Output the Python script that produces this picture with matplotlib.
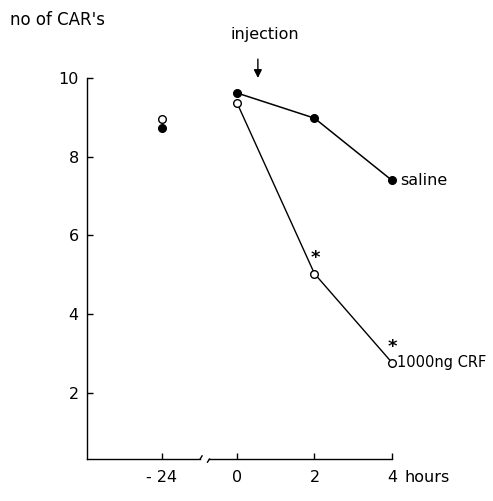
import numpy as np
from matplotlib import pyplot as plt

plt.rcParams['font.family'] = ['DejaVu Sans']

# hours after injection (the -24 h baseline sits left of the axis break)
baseline_hour = -24
hours = [0, 2, 4]

saline_baseline = 8.72
saline = [9.62, 8.98, 7.40]
crf_baseline = 8.95
crf = [9.37, 5.03, 2.77]

x_ticks = [-24, 0, 2, 4]
x_tick_labels = ['- 24', '0', '2', '4']
y_ticks = [2, 4, 6, 8, 10]

# where -24 h is drawn on the compressed axis
BASE_POS = -1.94


def xpos(h):
    h = np.atleast_1d(h).astype(float)
    return np.where(h < -1, BASE_POS, h)


fig = plt.figure(figsize=(4.93, 5.01), dpi=100)
ax = fig.add_axes([0.1765, 0.0838, 0.795 - 0.1765, 0.8443 - 0.0838])
ax.set_xlim(-3.87, 4.0)
ax.set_ylim(0.32, 10)

for s in ['top', 'right', 'bottom']:
    ax.spines[s].set_visible(False)
ax.spines['left'].set_linewidth(1.0)

# broken x axis drawn by hand
y0 = 0.32
b1, b2 = -0.90, -0.76
ax.plot([-3.87, b1 - 0.05], [y0, y0], color='k', lw=1.0, clip_on=False)
ax.plot([b1 - 0.05, b1], [y0, y0 + 0.08], color='k', lw=1.0, clip_on=False)
ax.plot([b2, b2 + 0.05], [y0 - 0.08, y0], color='k', lw=1.0, clip_on=False)
ax.plot([b2 + 0.05, 4.0], [y0, y0], color='k', lw=1.0, clip_on=False)

ax.set_xticks(xpos(x_ticks))
ax.set_xticklabels(x_tick_labels)
ax.set_yticks(y_ticks)
ax.tick_params(axis='both', direction='in', length=4, width=1.0,
               labelsize=11.5, colors='k')
ax.tick_params(axis='x', pad=8)
ax.tick_params(axis='y', pad=6)

# series
ax.plot(xpos(hours), saline, color='k', lw=1.1, marker='o', ms=5.5,
        mfc='k', mec='k', clip_on=False)
ax.plot(xpos(hours), crf, color='k', lw=1.0, marker='o', ms=5.5,
        mfc='white', mec='k', mew=1.0, clip_on=False)
ax.plot(xpos(baseline_hour), [saline_baseline], 'o', color='k', ms=5.5)
ax.plot(xpos(baseline_hour), [crf_baseline], 'o', mfc='white', mec='k',
        mew=1.0, ms=5.5)

# significance marks
for h, v in zip(hours[1:], crf[1:]):
    ax.text(xpos(h)[0] + 0.02, v + 0.40, '*', fontsize=13, fontweight='bold',
            ha='center', va='center')

ax.text(4.22, saline[-1], 'saline', fontsize=11.5, va='center', ha='left')
ax.text(4.12, crf[-1], '1000ng CRF', fontsize=10.5, va='center', ha='left')
fig.text(405 / 493, 1 - 477 / 501, 'hours', fontsize=11.5, va='center',
         ha='left')

# injection arrow
ax.annotate('', xy=(0.54, 9.93), xytext=(0.54, 10.55),
            arrowprops=dict(arrowstyle='-|>', color='k', lw=1.0,
                            mutation_scale=12),
            annotation_clip=False)
ax.text(0.72, 11.1, 'injection', fontsize=11.5, ha='center', va='center')

fig.text(0.02, 0.96, 'no of CAR\'s', fontsize=12, ha='left', va='center')

fig.savefig('out.png', dpi=100)
